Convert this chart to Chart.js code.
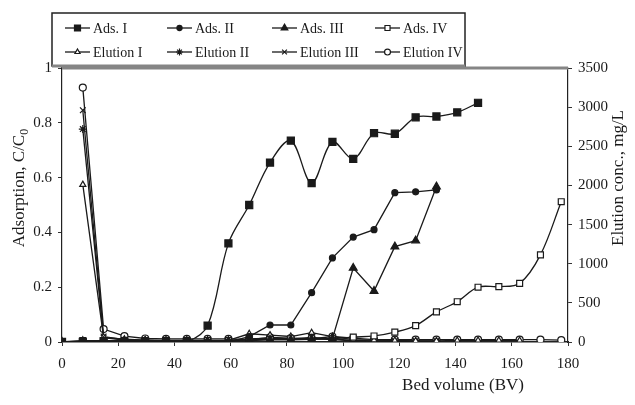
<!DOCTYPE html>
<html>
<head>
<meta charset="utf-8">
<script src="https://cdn.jsdelivr.net/npm/chart.js@4"></script>
<style>
  html, body { margin: 0; padding: 0; background: #fff; }
  #wrap { width: 635px; height: 405px; }
</style>
</head>
<body>
<div id="wrap"><canvas id="c" width="635" height="405"></canvas></div>
<script>
// bed volumes (BV) at which samples were taken
const bv = [0, 7.4, 14.8, 22.2, 29.6, 37, 44.4, 51.8, 59.2, 66.6, 74, 81.4, 88.8, 96.2,
            103.6, 111, 118.4, 125.8, 133.2, 140.6, 148, 155.4, 162.8, 170.2, 177.6];

// adsorption, C/C0 (left axis), starting at bv[0]
const adsI   = [0, 0, 0, 0, 0, 0, 0, 0.06, 0.36, 0.50, 0.655, 0.735, 0.58, 0.73, 0.668, 0.762, 0.76, 0.82, 0.823, 0.838, 0.873];
const adsII  = [0, 0, 0, 0, 0, 0, 0, 0, 0, 0.02, 0.062, 0.062, 0.18, 0.307, 0.383, 0.41, 0.545, 0.548, 0.555];
const adsIII = [0, 0.003, 0.003, 0.003, 0.003, 0.003, 0.003, 0.003, 0.003, 0.005, 0.008, 0.008, 0.01, 0.012, 0.27, 0.186, 0.348, 0.37, 0.567];
const adsIV  = [0, 0.005, 0.005, 0.005, 0.005, 0.005, 0.005, 0.005, 0.005, 0.008, 0.01, 0.012, 0.012, 0.012, 0.018, 0.022, 0.036, 0.06, 0.11, 0.147, 0.2, 0.202, 0.214, 0.318, 0.512];

// elution conc., mg/L (right axis), starting at bv[1]
const elutionI   = [2010, 60, 35, 25, 20, 20, 20, 20, 105, 88, 70, 119, 70, 30, 25, 20, 15, 15, 20, 20, 20, 20];
const elutionII  = [2720, 55, 25, 20, 15, 15, 15, 15, 40, 50, 40, 60, 40, 20, 15, 10, 10, 10];
const elutionIII = [2960, 70, 30, 20, 15, 15, 15, 15, 30, 40, 30, 45, 30, 15, 10, 10, 10, 10];
const elutionIV  = [3250, 165, 75, 45, 40, 40, 40, 40, 30, 60, 50, 40, 70, 50, 30, 30, 30, 30, 30, 30, 30, 30, 30, 25];

// axis ticks
const xTicks = [0, 20, 40, 60, 80, 100, 120, 140, 160, 180];
const leftTicks = [0, 0.2, 0.4, 0.6, 0.8, 1];
const rightTicks = [0, 500, 1000, 1500, 2000, 2500, 3000, 3500];

const ink = '#1a1a1a';
const serif = '"Liberation Serif", "DejaVu Serif", serif';

function pts(values, start) {
  return values.map((v, i) => ({ x: bv[start + i], y: v }));
}

function series(label, values, start, axis, style, radius, filled, tension) {
  return {
    label: label,
    data: pts(values, start),
    yAxisID: axis,
    borderColor: ink,
    borderWidth: 1.3,
    tension: tension,
    pointStyle: style,
    pointRadius: radius,
    pointBorderWidth: 1.2,
    pointBorderColor: ink,
    pointBackgroundColor: filled ? ink : '#fff',
    fill: false
  };
}

const datasets = [
  series('Ads. I', adsI, 0, 'y', 'rect', 5, true, 0.35),
  series('Ads. II', adsII, 0, 'y', 'circle', 3, true, 0),
  series('Ads. III', adsIII, 0, 'y', 'triangle', 4.5, true, 0),
  series('Ads. IV', adsIV, 0, 'y', 'rect', 4.2, false, 0.35),
  series('Elution I', elutionI, 1, 'y2', 'triangle', 3.5, false, 0),
  series('Elution II', elutionII, 1, 'y2', 'star', 4, false, 0),
  series('Elution III', elutionIII, 1, 'y2', 'crossRot', 4, false, 0),
  series('Elution IV', elutionIV, 1, 'y2', 'circle', 3.5, false, 0)
];

function fixedTicks(arr) {
  return function (scale) { scale.ticks = arr.map(v => ({ value: v })); };
}

// legend box, top bar and axis titles
const decor = {
  id: 'decor',
  afterDraw(chart) {
    const ctx = chart.ctx;
    const a = chart.chartArea;
    ctx.save();

    // grey top border of the plot
    ctx.strokeStyle = '#858585';
    ctx.lineWidth = 3;
    ctx.beginPath();
    ctx.moveTo(a.left, a.top);
    ctx.lineTo(a.right, a.top);
    ctx.stroke();

    // legend
    const bx = 52, by = 13, bw = 413, bh = 53;
    ctx.fillStyle = '#fff';
    ctx.fillRect(bx, by, bw, bh);
    ctx.strokeStyle = '#222';
    ctx.lineWidth = 1.5;
    ctx.strokeRect(bx, by, bw, bh);
    ctx.strokeStyle = '#858585';
    ctx.lineWidth = 3;
    ctx.beginPath();
    ctx.moveTo(bx, by + bh);
    ctx.lineTo(bx + bw, by + bh);
    ctx.stroke();

    const cols = [65, 167, 272, 375];
    const rows = [28, 52];
    ctx.font = '14px ' + serif;
    ctx.textBaseline = 'middle';
    ctx.textAlign = 'left';
    chart.data.datasets.forEach((ds, i) => {
      const x = cols[i % 4], y = rows[Math.floor(i / 4)];
      ctx.strokeStyle = ink;
      ctx.lineWidth = 1.3;
      ctx.beginPath();
      ctx.moveTo(x, y);
      ctx.lineTo(x + 25, y);
      ctx.stroke();
      ctx.fillStyle = ds.pointBackgroundColor;
      ctx.lineWidth = 1.2;
      Chart.helpers.drawPoint(ctx, {
        pointStyle: ds.pointStyle,
        radius: ds.pointRadius * 0.85,
        rotation: 0,
        borderWidth: 1.2
      }, x + 12.5, y);
      ctx.fillStyle = ink;
      ctx.fillText(ds.label, x + 28, y + 1);
    });

    // axis titles
    ctx.fillStyle = ink;
    ctx.font = '17px ' + serif;
    ctx.textBaseline = 'middle';

    ctx.save();
    ctx.translate(20, 188);
    ctx.rotate(-Math.PI / 2);
    const main = 'Adsorption, C/C';
    const wMain = ctx.measureText(main).width;
    ctx.font = '12px ' + serif;
    const wSub = ctx.measureText('0').width;
    const x0 = -(wMain + wSub) / 2;
    ctx.font = '17px ' + serif;
    ctx.textAlign = 'left';
    ctx.fillText(main, x0, 0);
    ctx.font = '12px ' + serif;
    ctx.fillText('0', x0 + wMain, 5);
    ctx.restore();

    ctx.save();
    ctx.translate(619, 178);
    ctx.rotate(-Math.PI / 2);
    ctx.textAlign = 'center';
    ctx.font = '17px ' + serif;
    ctx.fillText('Elution conc., mg/L', 0, 0);
    ctx.restore();

    ctx.textAlign = 'center';
    ctx.font = '17px ' + serif;
    ctx.fillText('Bed volume (BV)', 463, 386);

    ctx.restore();
  }
};

const tickFont = { family: serif, size: 15 };

new Chart(document.getElementById('c'), {
  type: 'line',
  data: { datasets: datasets },
  options: {
    responsive: false,
    animation: false,
    layout: { padding: { top: 68, left: 0, right: 0, bottom: 0 } },
    plugins: { legend: { display: false }, tooltip: { enabled: false } },
    scales: {
      x: {
        type: 'linear',
        position: 'bottom',
        min: 0,
        max: 180,
        afterBuildTicks: fixedTicks(xTicks),
        afterFit(s) { s.height = 63; },
        grid: { drawOnChartArea: false, drawTicks: true, tickLength: 4, color: '#333' },
        border: { display: true, color: '#222', width: 1.5 },
        ticks: { font: tickFont, color: ink, padding: 9, maxRotation: 0, callback: v => String(v) }
      },
      y: {
        position: 'left',
        min: 0,
        max: 1,
        afterBuildTicks: fixedTicks(leftTicks),
        afterFit(s) { s.width = 62; },
        grid: { drawOnChartArea: false, drawTicks: true, tickLength: 4, color: '#333' },
        border: { display: true, color: '#222', width: 1.2 },
        ticks: { font: tickFont, color: ink, padding: 6, callback: v => String(v) }
      },
      y2: {
        position: 'right',
        min: 0,
        max: 3500,
        afterBuildTicks: fixedTicks(rightTicks),
        afterFit(s) { s.width = 67; },
        grid: { drawOnChartArea: false, drawTicks: true, tickLength: 4, color: '#333' },
        border: { display: true, color: '#222', width: 1.2 },
        ticks: { font: tickFont, color: ink, padding: 6, callback: v => String(v) }
      }
    }
  },
  plugins: [decor]
});
</script>
</body>
</html>
